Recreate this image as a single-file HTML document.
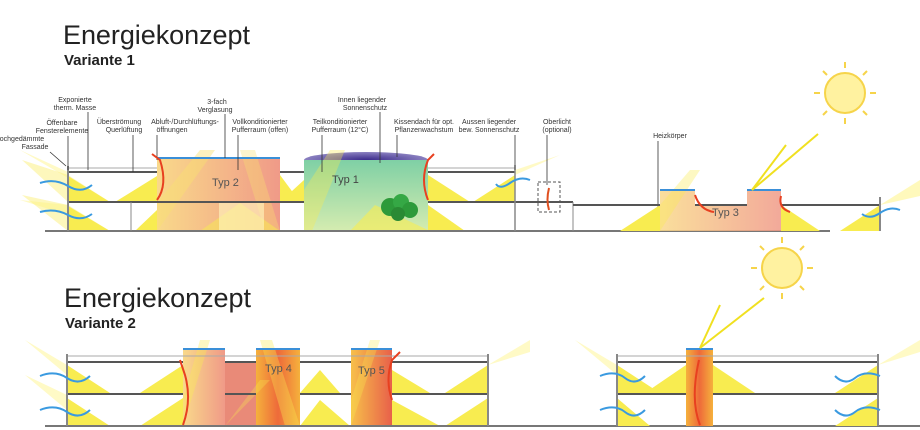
<!DOCTYPE html>
<html><head><meta charset="utf-8"><style>
html,body{margin:0;padding:0;background:#fff;width:920px;height:430px;overflow:hidden}
svg{display:block}
text{font-family:"Liberation Sans",sans-serif}
</style></head><body>
<svg width="920" height="430" viewBox="0 0 920 430" xmlns="http://www.w3.org/2000/svg">
<defs>
<linearGradient id="pink" x1="0" x2="1"><stop offset="0" stop-color="#f9d98a"/><stop offset="1" stop-color="#f09a88"/></linearGradient>
<linearGradient id="green" x1="0" x2="0" y1="0" y2="1"><stop offset="0" stop-color="#7fd0a5"/><stop offset="1" stop-color="#d5ecb0"/></linearGradient>
<linearGradient id="tower" x1="0" x2="1"><stop offset="0" stop-color="#f7c04a"/><stop offset="1" stop-color="#e8604a"/></linearGradient>
<linearGradient id="tower2" x1="0" x2="1"><stop offset="0" stop-color="#f5b13c"/><stop offset="0.5" stop-color="#ee6a3a"/><stop offset="1" stop-color="#f5b13c"/></linearGradient>
<radialGradient id="dome"><stop offset="0" stop-color="#3a2a8a"/><stop offset="1" stop-color="#8a80c0"/></radialGradient>
</defs>

<text x="63" y="44" font-size="27" textLength="187" fill="#222">Energiekonzept</text>
<text x="64" y="65" font-size="15" font-weight="bold" fill="#222">Variante 1</text>
<text x="64" y="307" font-size="27" textLength="187" fill="#222">Energiekonzept</text>
<text x="65" y="328" font-size="15" font-weight="bold" fill="#222">Variante 2</text>

<!-- ============ VARIANTE 1 ============ -->
<polygon points="20,150 68,172 68,178" fill="#fff6a0" opacity="0.6"/>
<polygon points="20,200 68,205 68,215" fill="#fff6a0" opacity="0.6"/>
<polygon points="22,160 68,175 110,202 68,202" fill="#fbf07a" opacity="0.5"/>
<polygon points="22,195 68,205 110,231 68,231" fill="#fbf07a" opacity="0.5"/>
<polygon points="68,176 110,202 68,202" fill="#f8ec50"/>
<polygon points="68,206 110,231 68,231" fill="#f8ec50"/>
<polygon points="115,202 157,176 157,202" fill="#f8ec50"/>
<polygon points="135,231 157,210 157,231" fill="#f8ec50"/>
<rect x="157" y="158" width="123" height="73" fill="url(#pink)"/>
<polygon points="157,231 157,203 200,150 215,150" fill="#f9e070" opacity="0.45"/>
<polygon points="240,150 255,150 280,231 265,231" fill="#f9e070" opacity="0.35"/>
<polygon points="200,231 240,203 280,231" fill="#f8ec50" opacity="0.5"/>
<rect x="219" y="203" width="45" height="28" fill="#fff8c0" opacity="0.6"/>
<text x="212" y="186" font-size="11" fill="#555">Typ  2</text>
<line x1="157" y1="158" x2="280" y2="158" stroke="#3a8fd8" stroke-width="2"/>
<polygon points="280,202 304,180 304,202" fill="#f8ec50"/>
<polygon points="280,175 300,202 280,202" fill="#f8ec50"/>
<polygon points="304,231 320,205 345,231" fill="#f8ec50"/>
<ellipse cx="366" cy="160" rx="62" ry="8" fill="url(#dome)"/>
<rect x="304" y="160" width="124" height="71" fill="url(#green)"/>
<polygon points="304,190 330,150 345,150 312,231 304,231" fill="#f8ec50" opacity="0.35"/>
<polygon points="350,231 375,205 430,231" fill="#f8ec50" opacity="0.6"/>
<text x="332" y="183" font-size="11" fill="#444">Typ  1</text>
<circle cx="390" cy="207" r="9" fill="#2d9a3a"/><circle cx="401" cy="202" r="8" fill="#35a845"/><circle cx="410" cy="210" r="8" fill="#2d9a3a"/><circle cx="398" cy="214" r="7" fill="#2a8a34"/>
<polygon points="428,175 470,202 428,202" fill="#f8ec50"/>
<polygon points="428,205 465,231 428,231" fill="#f8ec50"/>
<polygon points="473,202 515,175 515,202" fill="#f8ec50"/>
<polygon points="515,175 560,155 515,170" fill="#fff6a0" opacity="0.6"/>
<g stroke="#555" stroke-width="2" fill="none">
<line x1="45" y1="231" x2="830" y2="231" stroke="#777" stroke-width="2"/>
<line x1="68" y1="172" x2="157" y2="172"/>
<line x1="68" y1="168" x2="157" y2="168" stroke="#aaa" stroke-width="1"/>
<line x1="68" y1="202" x2="304" y2="202"/>
<line x1="280" y1="172" x2="304" y2="172"/>
<line x1="428" y1="172" x2="515" y2="172"/>
<line x1="428" y1="168" x2="515" y2="168" stroke="#aaa" stroke-width="1"/>
<line x1="428" y1="202" x2="573" y2="202"/>
<line x1="68" y1="166" x2="68" y2="231" stroke="#888"/>
<line x1="515" y1="165" x2="515" y2="231" stroke="#888" stroke-width="1.5"/>
<line x1="573" y1="202" x2="573" y2="231" stroke="#888" stroke-width="1"/>
<line x1="131" y1="202" x2="131" y2="231" stroke="#888" stroke-width="1"/>
</g>
<rect x="538" y="182" width="22" height="30" fill="none" stroke="#555" stroke-dasharray="3,2"/>
<path d="M549,210 Q546,200 549,188" stroke="#e05020" stroke-width="2" fill="none"/>
<g font-size="7" fill="#333" text-anchor="middle">
<text x="75" y="102">Exponierte</text><text x="75" y="110">therm. Masse</text>
<text x="62" y="125">Öffenbare</text><text x="62" y="133">Fensterelemente</text>
<text x="20" y="141">hochgedämmte</text><text x="35" y="149">Fassade</text>
<text x="119" y="124">Überströmung</text><text x="124" y="132">Querlüftung</text>
<text x="185" y="124">Abluft-/Durchlüftungs-</text><text x="172" y="132">öffnungen</text>
<text x="217" y="104">3-fach</text><text x="215" y="112">Verglasung</text>
<text x="260" y="124">Vollkonditionierter</text><text x="260" y="132">Pufferraum (offen)</text>
<text x="340" y="124">Teilkonditionierter</text><text x="340" y="132">Pufferraum (12°C)</text>
<text x="362" y="102">Innen liegender</text><text x="365" y="110">Sonnenschutz</text>
<text x="424" y="124">Kissendach für opt.</text><text x="424" y="132">Pflanzenwachstum</text>
<text x="489" y="124">Aussen liegender</text><text x="489" y="132">bew. Sonnenschutz</text>
<text x="557" y="124">Oberlicht</text><text x="557" y="132">(optional)</text>
<text x="670" y="138">Heizkörper</text>
</g>
<g stroke="#333" stroke-width="0.8">
<line x1="88" y1="112" x2="88" y2="170"/><line x1="68" y1="136" x2="68" y2="170"/>
<line x1="50" y1="152" x2="66" y2="166"/><line x1="133" y1="135" x2="133" y2="172"/>
<line x1="157" y1="135" x2="157" y2="160"/><line x1="225" y1="114" x2="225" y2="158"/>
<line x1="238" y1="135" x2="238" y2="170"/><line x1="322" y1="135" x2="322" y2="172"/>
<line x1="380" y1="112" x2="380" y2="163"/><line x1="397" y1="135" x2="397" y2="157"/>
<line x1="515" y1="135" x2="515" y2="170"/><line x1="547" y1="135" x2="547" y2="185"/>
<line x1="658" y1="141" x2="658" y2="225"/>
</g>

<polygon points="620,231 660,205 660,231" fill="#f8ec50"/>
<polygon points="660,190 695,190 695,205 747,205 747,190 781,190 781,231 660,231" fill="url(#pink)" opacity="0.85"/>
<polygon points="660,231 660,205 690,170 700,170" fill="#f8ec50" opacity="0.35"/>
<polygon points="781,205 820,231 781,231" fill="#f8ec50"/>
<polygon points="840,231 880,205 880,231" fill="#f8ec50"/>
<polygon points="880,205 920,180 920,196" fill="#fff6a0" opacity="0.7"/>
<text x="712" y="216" font-size="11" fill="#555">Typ  3</text>
<g stroke="#555" stroke-width="2" fill="none">
<line x1="573" y1="205" x2="660" y2="205"/>
<line x1="781" y1="205" x2="880" y2="205"/>
<line x1="695" y1="205" x2="747" y2="205"/>
<line x1="880" y1="197" x2="880" y2="231" stroke="#888"/>
<line x1="660" y1="190" x2="695" y2="190" stroke="#3a8fd8"/>
<line x1="747" y1="190" x2="781" y2="190" stroke="#3a8fd8"/>
</g>
<circle cx="845" cy="93" r="20" fill="#fff2a0" stroke="#f6d44a" stroke-width="2"/>
<g stroke="#f6d44a" stroke-width="2">
<line x1="845" y1="62" x2="845" y2="68"/><line x1="845" y1="118" x2="845" y2="124"/>
<line x1="814" y1="93" x2="820" y2="93"/><line x1="870" y1="93" x2="876" y2="93"/>
<line x1="823" y1="71" x2="827" y2="75"/><line x1="863" y1="111" x2="867" y2="115"/>
<line x1="867" y1="71" x2="863" y2="75"/><line x1="823" y1="115" x2="827" y2="111"/>
</g>
<line x1="818" y1="134" x2="752" y2="190" stroke="#f0e020" stroke-width="2"/>
<line x1="752" y1="190" x2="786" y2="145" stroke="#f0e020" stroke-width="2"/>

<!-- ============ VARIANTE 2 ============ -->
<polygon points="25,340 67,365 67,375" fill="#fff6a0" opacity="0.6"/>
<polygon points="25,375 67,395 67,410" fill="#fff6a0" opacity="0.6"/>
<polygon points="67,365 110,393 67,393" fill="#f8ec50"/>
<polygon points="67,398 110,426 67,426" fill="#f8ec50"/>
<polygon points="140,393 183,365 183,393" fill="#f8ec50"/>
<polygon points="140,426 183,398 183,426" fill="#f8ec50"/>
<rect x="183" y="349" width="42" height="77" fill="url(#pink)"/>
<rect x="225" y="362" width="31" height="64" fill="#e98a78"/>
<rect x="256" y="349" width="44" height="77" fill="url(#tower2)"/>
<polygon points="183,426 183,400 200,340 210,340" fill="#f8ec50" opacity="0.35"/>
<polygon points="260,340 272,340 300,426 285,426" fill="#f8ec50" opacity="0.35"/>
<polygon points="225,426 260,380 270,380" fill="#f8ec50" opacity="0.3"/>
<polygon points="300,393 320,370 340,393" fill="#f8ec50"/>
<polygon points="300,426 320,400 350,426" fill="#f8ec50"/>
<rect x="351" y="349" width="41" height="77" fill="url(#tower)"/>
<polygon points="351,426 351,400 370,340 380,340" fill="#f8ec50" opacity="0.3"/>
<polygon points="392,370 430,393 392,393" fill="#f8ec50"/>
<polygon points="392,400 440,426 392,426" fill="#f8ec50"/>
<polygon points="445,393 488,365 488,393" fill="#f8ec50"/>
<polygon points="445,426 488,398 488,426" fill="#f8ec50"/>
<polygon points="488,365 530,340 530,352" fill="#fff6a0" opacity="0.6"/>
<text x="265" y="372" font-size="11" fill="#555">Typ  4</text>
<text x="358" y="374" font-size="11" fill="#555">Typ  5</text>
<g stroke="#555" stroke-width="2" fill="none">
<line x1="45" y1="426" x2="920" y2="426" stroke="#777"/>
<line x1="67" y1="356" x2="488" y2="356" stroke="#aaa" stroke-width="1"/>
<line x1="67" y1="362" x2="183" y2="362"/><line x1="225" y1="362" x2="256" y2="362"/>
<line x1="300" y1="362" x2="351" y2="362"/><line x1="392" y1="362" x2="488" y2="362"/>
<line x1="67" y1="394" x2="183" y2="394"/><line x1="225" y1="394" x2="256" y2="394"/>
<line x1="300" y1="394" x2="351" y2="394"/><line x1="392" y1="394" x2="488" y2="394"/>
<line x1="67" y1="354" x2="67" y2="426" stroke="#888"/><line x1="488" y1="354" x2="488" y2="426" stroke="#888"/>
<line x1="183" y1="349" x2="225" y2="349" stroke="#3a8fd8"/>
<line x1="256" y1="349" x2="300" y2="349" stroke="#3a8fd8"/>
<line x1="351" y1="349" x2="392" y2="349" stroke="#3a8fd8"/>
</g>
<polygon points="575,340 617,365 617,375" fill="#fff6a0" opacity="0.6"/>
<polygon points="617,365 660,393 617,393" fill="#f8ec50"/>
<polygon points="617,398 650,426 617,426" fill="#f8ec50"/>
<polygon points="645,393 686,365 686,393" fill="#f8ec50"/>
<rect x="686" y="349" width="27" height="77" fill="url(#tower2)"/>
<polygon points="713,365 755,393 713,393" fill="#f8ec50"/>
<polygon points="835,393 878,365 878,393" fill="#f8ec50"/>
<polygon points="835,426 878,398 878,426" fill="#f8ec50"/>
<polygon points="878,365 920,340 920,352" fill="#fff6a0" opacity="0.6"/>
<g stroke="#555" stroke-width="2" fill="none">
<line x1="617" y1="356" x2="878" y2="356" stroke="#aaa" stroke-width="1"/>
<line x1="617" y1="362" x2="686" y2="362"/><line x1="713" y1="362" x2="878" y2="362"/>
<line x1="617" y1="394" x2="686" y2="394"/><line x1="713" y1="394" x2="878" y2="394"/>
<line x1="617" y1="354" x2="617" y2="426" stroke="#888"/><line x1="878" y1="354" x2="878" y2="426" stroke="#888"/>
<line x1="686" y1="349" x2="713" y2="349" stroke="#3a8fd8"/>
</g>
<circle cx="782" cy="268" r="20" fill="#fff2a0" stroke="#f6d44a" stroke-width="2"/>
<g stroke="#f6d44a" stroke-width="2">
<line x1="782" y1="237" x2="782" y2="243"/><line x1="782" y1="293" x2="782" y2="299"/>
<line x1="751" y1="268" x2="757" y2="268"/><line x1="807" y1="268" x2="813" y2="268"/>
<line x1="760" y1="246" x2="764" y2="250"/><line x1="800" y1="286" x2="804" y2="290"/>
<line x1="804" y1="246" x2="800" y2="250"/><line x1="760" y1="290" x2="764" y2="286"/>
</g>
<line x1="764" y1="298" x2="700" y2="348" stroke="#f0e020" stroke-width="2"/>
<line x1="700" y1="348" x2="720" y2="305" stroke="#f0e020" stroke-width="2"/>

<g stroke="#3a9ae0" stroke-width="2" fill="none">
<path d="M40,183 Q55,178 68,186 T92,185"/><path d="M40,212 Q55,208 68,215 T92,214"/>
<path d="M40,376 Q55,370 67,378 T90,376"/><path d="M40,410 Q55,404 67,412 T90,410"/>
<path d="M880,376 Q865,370 855,378 T835,376"/><path d="M880,410 Q865,404 855,412 T835,410"/>
<path d="M600,376 Q615,370 625,378 T645,376"/><path d="M600,410 Q615,404 625,412 T645,410"/>
<path d="M530,180 Q520,176 510,183 T496,184"/><path d="M900,210 Q890,206 880,213 T862,214"/>
</g>
<g stroke="#e84020" stroke-width="2" fill="none">
<path d="M157,200 Q168,185 160,160 L152,154"/><path d="M428,200 Q420,180 428,160 L434,154"/>
<path d="M183,425 Q192,400 185,375 L180,360"/><path d="M392,400 Q385,380 392,360 L400,352"/>
<path d="M700,425 Q690,400 699,360"/><path d="M695,195 Q700,210 714,212"/><path d="M781,196 Q778,208 790,212"/>
</g>
</svg>
</body></html>
